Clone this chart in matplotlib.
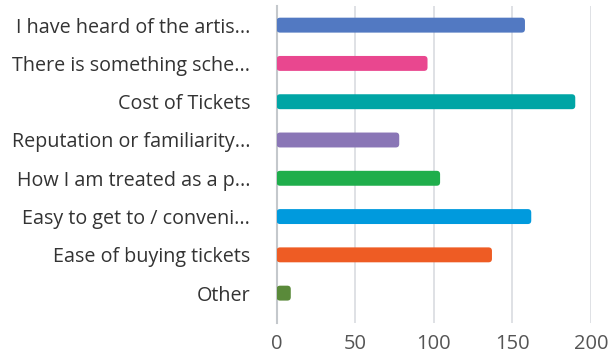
import matplotlib.pyplot as plt
from matplotlib.patches import FancyBboxPatch

plt.rcParams["font.family"] = ["Open Sans", "DejaVu Sans"]

categories = [
    "I have heard of the artis...",
    "There is something sche...",
    "Cost of Tickets",
    "Reputation or familiarity...",
    "How I am treated as a p...",
    "Easy to get to / conveni...",
    "Ease of buying tickets",
    "Other",
]
counts = [158, 96, 190, 78, 104, 162, 137, 9]
colors = ["#5279C2", "#E9478F", "#00A5A5", "#8A76B6",
          "#1FAE4B", "#009ADD", "#EE5C24", "#5A8A3A"]
xticks = [0, 50, 100, 150, 200]

fig = plt.figure(figsize=(6.08, 3.53), dpi=100)
ax = fig.add_axes([0.455, 0.085, 0.517, 0.898])

ypos = list(range(len(categories)))
bars = ax.barh(ypos, counts, height=0.39, color=colors)

ax.set_xlim(0, 200)
ax.set_ylim(7.78, -0.5)

# swap plain rectangles for rounded ones (rounding in x units, aspect scaled for y)
for rect, c in zip(bars.patches, colors):
    x, y = rect.get_x(), rect.get_y()
    w, h = rect.get_width(), rect.get_height()
    rect.set_visible(False)
    ax.add_patch(FancyBboxPatch(
        (x, y), w, h,
        boxstyle="round,pad=0,rounding_size=2.2",
        mutation_aspect=0.041,
        facecolor=c, edgecolor="none", zorder=3,
    ))

ax.set_yticks(ypos)
ax.set_yticklabels(categories, fontsize=14.2, color="#333333")
ax.set_xticks(xticks)
ax.set_xticklabels([str(t) for t in xticks], fontsize=14.5, color="#555555")
ax.tick_params(axis="y", length=0, pad=19)
ax.tick_params(axis="x", length=0, pad=8)

ax.grid(axis="x", color="#D9DCE0", linewidth=1.2, zorder=0)
ax.set_axisbelow(True)
for side in ["top", "right", "bottom"]:
    ax.spines[side].set_visible(False)
ax.spines["left"].set_color("#C4C8CC")
ax.spines["left"].set_linewidth(1.5)

plt.savefig("out.png", dpi=100)
plt.close()
